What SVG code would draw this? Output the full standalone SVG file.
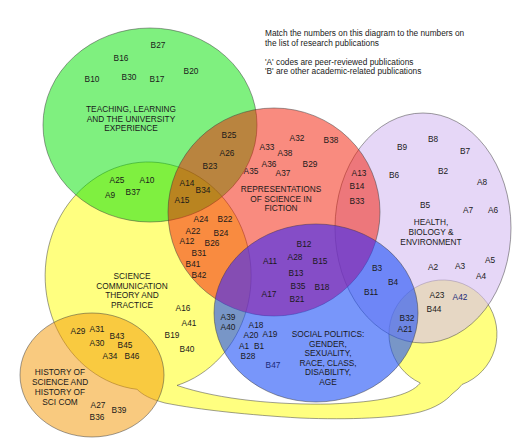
<svg xmlns="http://www.w3.org/2000/svg" width="523" height="442" viewBox="0 0 523 442">
<style>
text{font-family:"Liberation Sans",Arial,sans-serif;font-size:8.3px;fill:#1a1a1a}
.c{text-anchor:middle}
.set{stroke:#3c3c3c;stroke-opacity:.55;stroke-width:.9}
.navy{fill:#1a2a78}
</style>
<defs>
<clipPath id="clipRed"><ellipse cx="274" cy="212" rx="106" ry="104"/></clipPath>
</defs>
<rect width="523" height="442" fill="#ffffff"/>
<g id="connectors"/>
<g id="node-scicom">
<path class="set" fill="#ffff80" d="M177,385.4 A103 114 0 1 0 137,389.3 C143,395 150,399 165,403 C200,410 250,415 300,418 C350,420 395,418 420,412 C435,408 446,401 452,394 L458,389 L462,384.5 A54 54 0 1 0 420.3,383 C410,396 380,402 330,404 C280,405 220,400 177,385.4 Z"/>
<text class="c" x="132" y="279">SCIENCE</text>
<text class="c" x="132" y="288.5">COMMUNICATION</text>
<text class="c" x="132" y="298">THEORY AND</text>
<text class="c" x="132" y="307.5">PRACTICE</text>
</g>
<g id="node-teaching">
<ellipse class="set" cx="150" cy="125" rx="107" ry="97" fill="#00e100" fill-opacity=".5"/>
<text class="c" x="131" y="112">TEACHING, LEARNING</text>
<text class="c" x="131" y="121.5">AND THE UNIVERSITY</text>
<text class="c" x="131" y="131">EXPERIENCE</text>
</g>
<g id="node-history">
<ellipse class="set" cx="92" cy="375" rx="72" ry="62" fill="#f39500" fill-opacity=".5"/>
<text class="c" x="60" y="375">HISTORY OF</text>
<text class="c" x="60" y="385">SCIENCE AND</text>
<text class="c" x="60" y="395">HISTORY OF</text>
<text class="c" x="60" y="405">SCI COM</text>
</g>
<g id="node-health">
<ellipse class="set" cx="423" cy="228" rx="88" ry="115" fill="#d5bcf1" fill-opacity=".6"/>
<text class="c" x="431" y="225">HEALTH,</text>
<text class="c" x="431" y="235">BIOLOGY &amp;</text>
<text class="c" x="431" y="245">ENVIRONMENT</text>
</g>
<g id="node-fiction">
<ellipse class="set" cx="274" cy="212" rx="106" ry="104" fill="#f31700" fill-opacity=".5"/>
<text class="c" x="281" y="192">REPRESENTATIONS</text>
<text class="c" x="281" y="202">OF SCIENCE IN</text>
<text class="c" x="281" y="211">FICTION</text>
</g>
<g id="node-social">
<ellipse class="set" cx="316" cy="313" rx="102" ry="89" fill="#1e50f7" fill-opacity=".6"/>
<ellipse cx="316" cy="313" rx="102" ry="89" fill="#b400c8" fill-opacity=".25" clip-path="url(#clipRed)"/>
<text class="c" x="328" y="337">SOCIAL POLITICS:</text>
<text class="c" x="328" y="347">GENDER,</text>
<text class="c" x="328" y="356">SEXUALITY,</text>
<text class="c" x="328" y="365.5">RACE, CLASS,</text>
<text class="c" x="328" y="375">DISABILITY,</text>
<text class="c" x="328" y="384.5">AGE</text>
</g>
<g id="codes" class="codes">
<text class="c" x="158" y="48">B27</text>
<text class="c" x="121" y="61">B16</text>
<text class="c" x="92" y="82">B10</text>
<text class="c" x="129" y="80">B30</text>
<text class="c" x="157" y="82">B17</text>
<text class="c" x="191" y="74">B20</text>
<text class="c" x="117" y="183">A25</text>
<text class="c" x="147" y="183">A10</text>
<text class="c" x="110" y="198">A9</text>
<text class="c" x="133" y="195">B37</text>
<text class="c" x="187" y="186">A14</text>
<text class="c" x="203" y="193">B34</text>
<text class="c" x="182" y="203">A15</text>
<text class="c" x="229" y="138">B25</text>
<text class="c" x="227" y="156">A26</text>
<text class="c" x="210" y="169">B23</text>
<text class="c" x="267" y="150">A33</text>
<text class="c" x="297" y="141">A32</text>
<text class="c" x="331" y="143">B38</text>
<text class="c" x="285" y="156">A38</text>
<text class="c" x="269" y="167">A36</text>
<text class="c" x="251" y="174">A35</text>
<text class="c" x="283" y="176">A37</text>
<text class="c" x="310" y="167">B29</text>
<text class="c" x="359" y="176">A13</text>
<text class="c" x="357" y="189">B14</text>
<text class="c" x="357" y="204">B33</text>
<text class="c" x="433" y="142">B8</text>
<text class="c" x="402" y="150">B9</text>
<text class="c" x="465" y="154">B7</text>
<text class="c" x="394" y="178">B6</text>
<text class="c" x="443" y="174">B2</text>
<text class="c" x="482" y="185">A8</text>
<text class="c" x="425" y="208">B5</text>
<text class="c" x="468" y="213">A7</text>
<text class="c" x="493" y="213">A6</text>
<text class="c" x="433" y="270">A2</text>
<text class="c" x="460" y="269">A3</text>
<text class="c" x="490" y="263">A5</text>
<text class="c" x="481" y="279">A4</text>
<text class="c" x="201" y="222">A24</text>
<text class="c" x="225" y="222">B22</text>
<text class="c" x="193" y="234">A22</text>
<text class="c" x="221" y="236">B24</text>
<text class="c" x="187" y="244">A12</text>
<text class="c" x="212" y="246">B26</text>
<text class="c" x="199" y="256">B31</text>
<text class="c" x="193" y="267">B41</text>
<text class="c" x="199" y="278">B42</text>
<text class="c" x="270" y="264">A11</text>
<text class="c" x="304" y="247">B12</text>
<text class="c" x="295" y="260">A28</text>
<text class="c" x="320" y="264">B15</text>
<text class="c" x="296" y="276">B13</text>
<text class="c" x="298" y="289">B35</text>
<text class="c" x="322" y="290">B18</text>
<text class="c" x="269" y="297">A17</text>
<text class="c" x="297" y="302">B21</text>
<text class="c" x="183" y="311">A16</text>
<text class="c" x="189" y="326">A41</text>
<text class="c" x="172" y="338">B19</text>
<text class="c" x="187" y="352">B40</text>
<text class="c" x="78" y="334">A29</text>
<text class="c" x="97" y="332">A31</text>
<text class="c" x="97" y="346">A30</text>
<text class="c" x="117" y="339">B43</text>
<text class="c" x="125" y="348">B45</text>
<text class="c" x="110" y="359">A34</text>
<text class="c" x="132" y="359">B46</text>
<text class="c" x="98" y="408">A27</text>
<text class="c" x="119" y="413">B39</text>
<text class="c" x="97" y="420">B36</text>
<text class="c" x="228" y="320">A39</text>
<text class="c" x="228" y="330">A40</text>
<text class="c" x="256" y="328">A18</text>
<text class="c" x="251" y="338">A20</text>
<text class="c" x="270" y="337">A19</text>
<text class="c" x="244" y="349">A1</text>
<text class="c" x="259" y="349">B1</text>
<text class="c" x="248" y="359">B28</text>
<text class="c navy" x="273" y="368">B47</text>
<text class="c" x="377" y="271">B3</text>
<text class="c" x="393" y="285">B4</text>
<text class="c" x="371" y="295">B11</text>
<text class="c" x="437" y="298">A23</text>
<text class="c navy" x="460" y="300">A42</text>
<text class="c" x="434" y="312">B44</text>
<text class="c" x="407" y="321">B32</text>
<text class="c" x="405" y="332">A21</text>
</g>
<g id="note">
<text x="265" y="36">Match the numbers on this diagram to the numbers on</text>
<text x="265" y="45.5">the list of research publications</text>
<text x="265" y="64.5">'A' codes are peer-reviewed publications</text>
<text x="265" y="73.5">'B' are other academic-related publications</text>
</g>
</svg>
